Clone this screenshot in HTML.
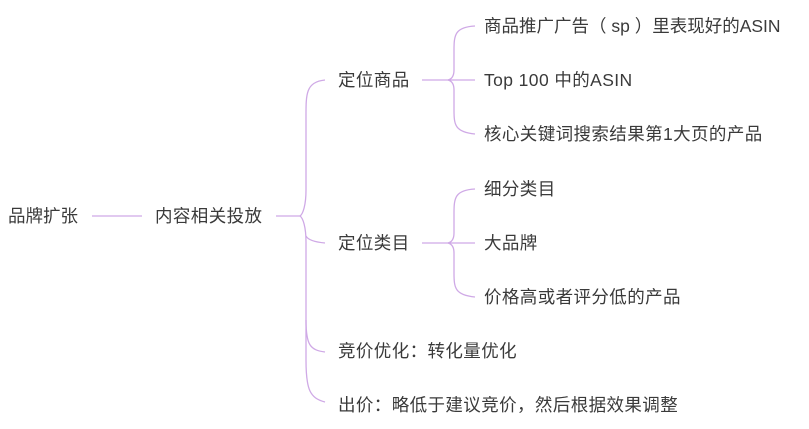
<!DOCTYPE html>
<html><head><meta charset="utf-8"><style>
body{margin:0;width:809px;height:429px;background:#fff;overflow:hidden;position:relative;font-family:"Liberation Sans","Noto Sans CJK SC",sans-serif;color:#3a3a3a;font-size:17.5px}
.t{position:absolute;white-space:nowrap;line-height:20px;letter-spacing:0.4px}
svg{position:absolute;left:0;top:0}
</style></head><body>
<svg width="809" height="429" fill="none" stroke="#cfa9e6" stroke-width="1.3">
<path d="M92 216H142"/>
<path d="M276 216H300"/>
<path d="M325 80C305 82 306 95 306 120V190C306 205 303 214 300 216C303 218 306 227 306 242V360C306 390 310 398 325 402"/>
<path d="M306 236C308 240 314 242 325 243"/>
<path d="M306 320C306 345 310 350 325 352"/>
<path d="M422 80H475"/>
<path d="M475 26C455 27 454 35 454 50V70C454 76 452 79 448 80C452 81 454 84 454 90V110C454 125 455 132 475 134"/>
<path d="M422 243H475"/>
<path d="M475 189C455 190 454 198 454 213V233C454 239 452 242 448 243C452 244 454 247 454 253V273C454 288 455 295 475 297"/>
</svg>
<div class="t" style="left:8px;top:206px;letter-spacing:0">品牌扩张</div>
<div class="t" style="left:155px;top:206px">内容相关投放</div>
<div class="t" style="left:338px;top:70px">定位商品</div>
<div class="t" style="left:338px;top:233px">定位类目</div>
<div class="t" style="left:338px;top:341px">竞价优化：转化量优化</div>
<div class="t" style="left:338px;top:395px">出价：略低于建议竞价，然后根据效果调整</div>
<div class="t" style="left:484px;top:16px;letter-spacing:0">商品推广广告（ sp ）里表现好的ASIN</div>
<div class="t" style="left:484px;top:70px">Top 100 中的ASIN</div>
<div class="t" style="left:484px;top:124px">核心关键词搜索结果第1大页的产品</div>
<div class="t" style="left:484px;top:179px">细分类目</div>
<div class="t" style="left:484px;top:233px">大品牌</div>
<div class="t" style="left:484px;top:287px">价格高或者评分低的产品</div>
</body></html>
